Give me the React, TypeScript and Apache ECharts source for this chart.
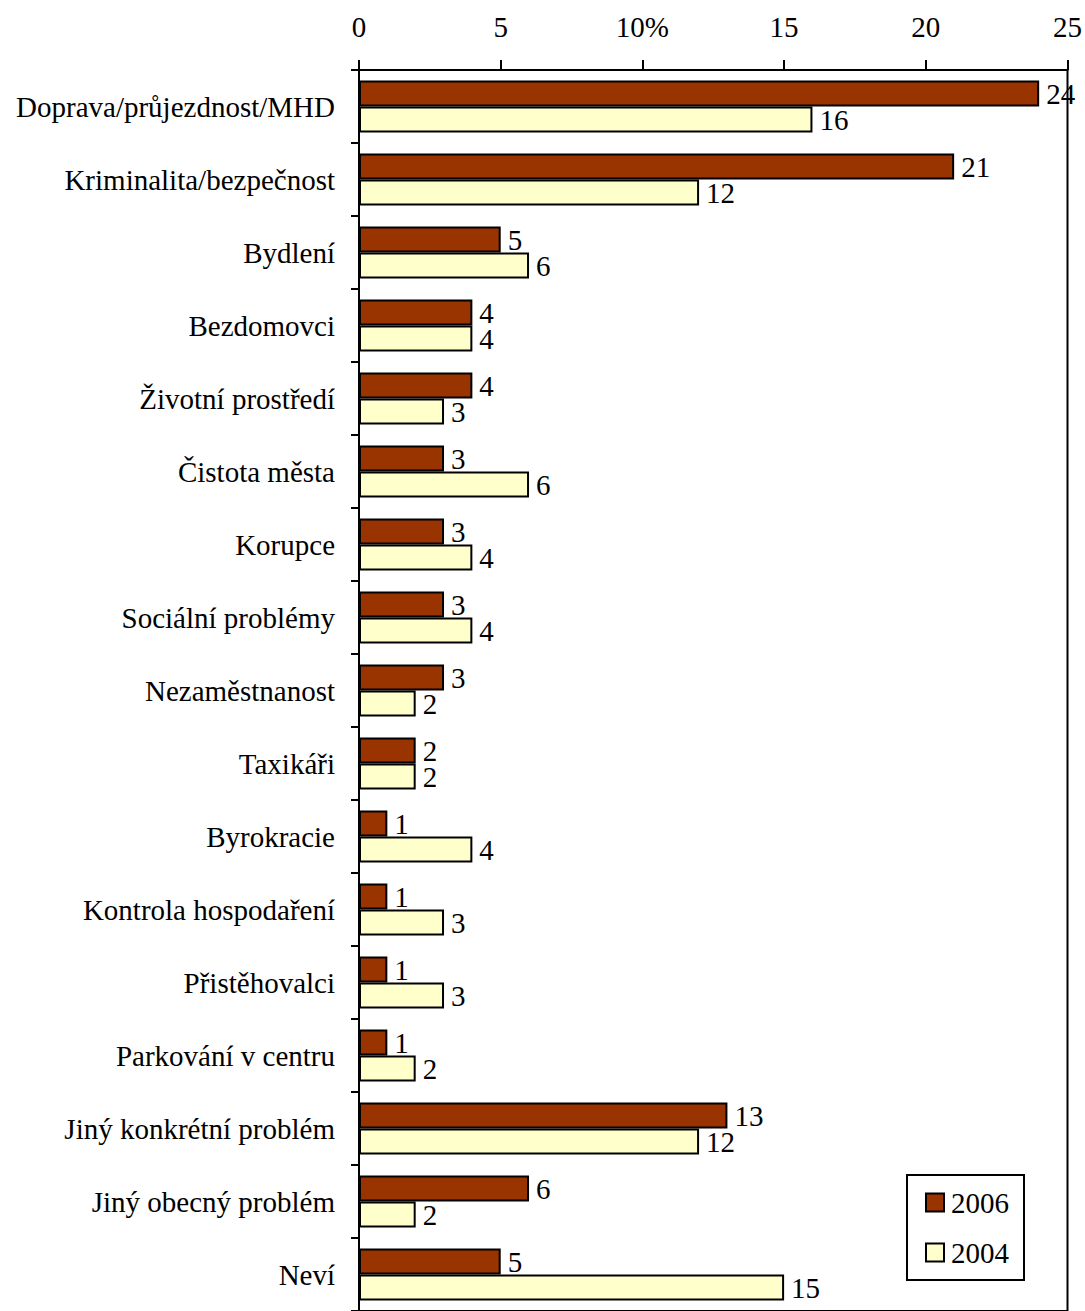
import React, { useEffect, useRef } from "react";
import * as echarts from "echarts";

const categories = [
  "Doprava/průjezdnost/MHD",
  "Kriminalita/bezpečnost",
  "Bydlení",
  "Bezdomovci",
  "Životní prostředí",
  "Čistota města",
  "Korupce",
  "Sociální problémy",
  "Nezaměstnanost",
  "Taxikáři",
  "Byrokracie",
  "Kontrola hospodaření",
  "Přistěhovalci",
  "Parkování v centru",
  "Jiný konkrétní problém",
  "Jiný obecný problém",
  "Neví",
];
const values2006 = [24, 21, 5, 4, 4, 3, 3, 3, 3, 2, 1, 1, 1, 1, 13, 6, 5];
const values2004 = [16, 12, 6, 4, 3, 6, 4, 4, 2, 2, 4, 3, 3, 2, 12, 2, 15];
const seriesNames = ["2006", "2004"];

const FONT = "Liberation Serif";
const FS = 29;

export default function App() {
  const ref = useRef<HTMLDivElement>(null);
  useEffect(() => {
    document.body.style.margin = "0";
    const chart = echarts.init(ref.current!, null, { renderer: "svg" });
    const label = {
      show: true,
      position: "right",
      distance: 7,
      color: "#000",
      fontFamily: FONT,
      fontSize: FS,
      lineHeight: 24,
    };
    chart.setOption({
      animation: false,
      backgroundColor: "#fff",
      grid: {
        left: 359,
        right: 17,
        top: 70,
        bottom: 0,
        containLabel: false,
        show: true,
        borderColor: "#000",
        borderWidth: 2,
      },
      legend: {
        orient: "vertical",
        left: 907,
        top: 1175,
        padding: [13, 15, 13, 18],
        itemGap: 21,
        itemWidth: 18,
        itemHeight: 18,
        borderColor: "#000",
        borderWidth: 2,
        backgroundColor: "#fff",
        textStyle: { fontFamily: FONT, fontSize: FS, color: "#000", padding: [0, 0, 0, 2] },
        data: seriesNames.map((n) => ({ name: n, icon: "rect" })),
      },
      xAxis: {
        type: "value",
        position: "top",
        min: 0,
        max: 25,
        interval: 5,
        axisLine: { show: true, lineStyle: { color: "#000", width: 2 } },
        axisTick: { show: true, length: 10, lineStyle: { color: "#000", width: 2 } },
        splitLine: { show: false },
        axisLabel: {
          margin: 29,
          fontFamily: FONT,
          fontSize: FS,
          color: "#000",
          formatter: (v: number) => (v === 10 ? "10%" : String(v)),
        },
      },
      yAxis: {
        type: "category",
        inverse: true,
        data: categories,
        axisLine: { show: true, lineStyle: { color: "#000", width: 2 } },
        axisTick: { show: true, length: 8, lineStyle: { color: "#000", width: 2 } },
        axisLabel: {
          margin: 24,
          fontFamily: FONT,
          fontSize: FS,
          color: "#000",
        },
      },
      series: [
        {
          name: seriesNames[0],
          type: "bar",
          data: values2006,
          barWidth: 26,
          barGap: "0%",
          itemStyle: { color: "#993300", borderColor: "#000", borderWidth: 2 },
          label,
        },
        {
          name: seriesNames[1],
          type: "bar",
          data: values2004,
          barWidth: 26,
          barGap: "0%",
          itemStyle: { color: "#FFFFCC", borderColor: "#000", borderWidth: 2 },
          label,
        },
      ],
    });
    return () => chart.dispose();
  }, []);
  return (
    <div
      ref={ref}
      style={{ position: "fixed", left: 0, top: 0, width: 1085, height: 1311 }}
    />
  );
}
